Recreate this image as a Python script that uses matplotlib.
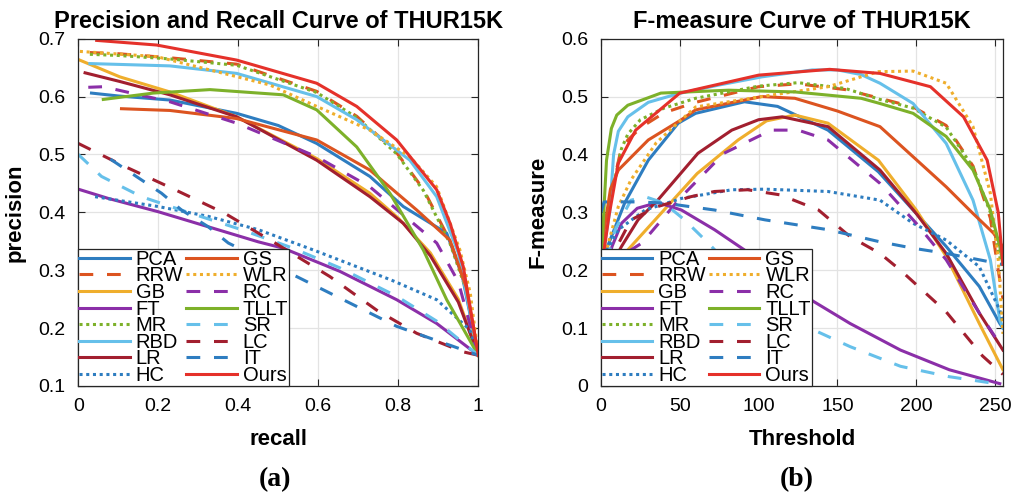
import numpy as np
import matplotlib
matplotlib.use("Agg")
import matplotlib.pyplot as plt

plt.rcParams['font.family'] = ['Liberation Sans', 'DejaVu Sans']

# ---- precision / recall curves ----
PCA_r = [0.033, 0.1, 0.229, 0.396, 0.5, 0.596, 0.729, 0.8125, 0.921, 0.96, 1.0]
PCA_p = [0.606, 0.601, 0.594, 0.571, 0.55, 0.519, 0.462, 0.41, 0.364, 0.29, 0.153]
RRW_r = [0.029, 0.1, 0.229, 0.396, 0.596, 0.696, 0.796, 0.8625, 0.93, 0.97, 1.0]
RRW_p = [0.676, 0.674, 0.667, 0.656, 0.609, 0.566, 0.503, 0.44, 0.35, 0.27, 0.153]
GB_r = [0.0, 0.104, 0.229, 0.396, 0.596, 0.729, 0.8, 0.88, 0.95, 1.0]
GB_p = [0.664, 0.634, 0.608, 0.565, 0.493, 0.433, 0.39, 0.33, 0.25, 0.153]
FT_r = [0.0, 0.075, 0.2, 0.325, 0.45, 0.5125, 0.654, 0.796, 0.896, 1.0]
FT_p = [0.44, 0.424, 0.401, 0.375, 0.349, 0.338, 0.298, 0.249, 0.208, 0.153]
MR_r = [0.029, 0.1, 0.229, 0.396, 0.596, 0.696, 0.796, 0.8625, 0.93, 0.97, 1.0]
MR_p = [0.673, 0.671, 0.665, 0.654, 0.607, 0.564, 0.501, 0.438, 0.345, 0.265, 0.153]
RBD_r = [0.029, 0.229, 0.396, 0.596, 0.696, 0.829, 0.896, 0.95, 1.0]
RBD_p = [0.657, 0.653, 0.64, 0.6, 0.56, 0.49, 0.427, 0.33, 0.153]
LR_r = [0.017, 0.104, 0.229, 0.396, 0.596, 0.729, 0.8125, 0.88, 0.95, 1.0]
LR_p = [0.641, 0.626, 0.603, 0.565, 0.49, 0.427, 0.381, 0.325, 0.245, 0.153]
HC_r = [0.042, 0.2, 0.325, 0.45, 0.5875, 0.7825, 0.896, 0.979, 1.0]
HC_p = [0.427, 0.41, 0.393, 0.37, 0.335, 0.283, 0.249, 0.197, 0.153]
GS_r = [0.108, 0.229, 0.396, 0.596, 0.729, 0.846, 0.929, 0.97, 1.0]
GS_p = [0.579, 0.576, 0.562, 0.525, 0.473, 0.404, 0.352, 0.27, 0.153]
WLR_r = [0.004, 0.196, 0.479, 0.596, 0.729, 0.829, 0.896, 0.954, 0.98, 1.0]
WLR_p = [0.678, 0.669, 0.62, 0.583, 0.542, 0.496, 0.444, 0.335, 0.26, 0.153]
RC_r = [0.025, 0.0625, 0.229, 0.396, 0.596, 0.729, 0.896, 0.95, 1.0]
RC_p = [0.616, 0.617, 0.591, 0.554, 0.496, 0.444, 0.347, 0.28, 0.153]
TLLT_r = [0.0625, 0.1875, 0.329, 0.5125, 0.596, 0.696, 0.779, 0.8625, 0.921, 1.0]
TLLT_p = [0.595, 0.606, 0.612, 0.603, 0.577, 0.513, 0.433, 0.335, 0.249, 0.153]
SR_r = [0.0, 0.058, 0.158, 0.283, 0.408, 0.533, 0.654, 0.796, 0.896, 1.0]
SR_p = [0.5, 0.462, 0.427, 0.398, 0.37, 0.339, 0.304, 0.255, 0.212, 0.153]
LC_r = [0.0, 0.117, 0.242, 0.367, 0.492, 0.629, 0.746, 0.846, 0.962, 1.0]
LC_p = [0.519, 0.479, 0.439, 0.398, 0.347, 0.289, 0.231, 0.191, 0.159, 0.153]
IT_r = [0.08, 0.158, 0.208, 0.258, 0.325, 0.375, 0.546, 0.671, 0.796, 1.0]
IT_p = [0.492, 0.456, 0.433, 0.404, 0.375, 0.347, 0.289, 0.246, 0.203, 0.153]
Ours_r = [0.046, 0.196, 0.396, 0.596, 0.696, 0.796, 0.896, 0.93, 0.9625, 1.0]
Ours_p = [0.697, 0.689, 0.663, 0.623, 0.583, 0.525, 0.439, 0.38, 0.306, 0.153]

# ---- F-measure vs threshold ----
PCA_t = [0, 4, 15, 30, 49, 60, 91, 112, 144, 176, 200, 219, 240, 253, 255]
PCA_f = [0.19, 0.24, 0.316, 0.39, 0.454, 0.471, 0.491, 0.483, 0.442, 0.37, 0.298, 0.241, 0.172, 0.108, 0.10]
RRW_t = [0, 3, 7, 12, 17, 26, 40, 60, 100, 125, 155, 177, 198, 219, 236, 247, 252, 255]
RRW_f = [0.19, 0.27, 0.34, 0.40, 0.425, 0.448, 0.472, 0.49, 0.517, 0.522, 0.512, 0.497, 0.482, 0.45, 0.38, 0.29, 0.2, 0.15]
GB_t = [0, 10, 17, 40, 61, 87, 105, 123, 144, 176, 200, 219, 240, 255]
GB_f = [0.17, 0.2, 0.235, 0.304, 0.367, 0.425, 0.458, 0.468, 0.454, 0.39, 0.304, 0.224, 0.108, 0.028]
FT_t = [0, 3, 7, 13, 23, 36, 51, 72, 91, 110, 130, 158, 190, 221, 253]
FT_f = [0.17, 0.2, 0.241, 0.281, 0.307, 0.317, 0.304, 0.27, 0.235, 0.195, 0.154, 0.108, 0.062, 0.028, 0.004]
MR_t = [0, 4, 9, 13, 17, 25, 40, 60, 100, 125, 155, 177, 198, 219, 236, 247, 252, 255]
MR_f = [0.19, 0.3, 0.36, 0.41, 0.435, 0.46, 0.48, 0.497, 0.518, 0.524, 0.514, 0.495, 0.48, 0.447, 0.378, 0.3, 0.235, 0.2]
RBD_t = [0, 2, 5.5, 8, 11, 17, 30, 49, 75, 102, 134, 150, 165, 177, 198, 219, 236, 247, 253, 255]
RBD_f = [0.19, 0.24, 0.3, 0.4, 0.44, 0.465, 0.49, 0.505, 0.52, 0.534, 0.546, 0.546, 0.538, 0.523, 0.488, 0.419, 0.321, 0.218, 0.114, 0.10]
LR_t = [0, 5, 13, 23.5, 36, 61.5, 83, 100, 115, 144, 177, 200, 219, 240, 255]
LR_f = [0.17, 0.2, 0.241, 0.287, 0.321, 0.402, 0.442, 0.46, 0.465, 0.448, 0.373, 0.298, 0.229, 0.126, 0.062]
HC_t = [0, 5, 11, 28, 51, 83, 104, 144, 177, 198, 219, 240, 253, 255]
HC_f = [0.2, 0.24, 0.27, 0.304, 0.324, 0.339, 0.34, 0.336, 0.321, 0.281, 0.252, 0.206, 0.131, 0.11]
GS_t = [0, 2, 6, 11, 30, 51, 60, 102, 123, 150, 177, 198, 219, 236, 249, 255]
GS_f = [0.19, 0.27, 0.34, 0.373, 0.425, 0.46, 0.477, 0.5, 0.497, 0.475, 0.448, 0.396, 0.344, 0.298, 0.264, 0.24]
WLR_t = [0, 4, 11, 19, 35, 51, 60, 102, 144, 176, 198, 219, 236, 247, 252, 255]
WLR_f = [0.17, 0.24, 0.31, 0.356, 0.42, 0.46, 0.482, 0.5, 0.517, 0.543, 0.544, 0.523, 0.448, 0.333, 0.218, 0.09]
RC_t = [0, 10, 19, 26, 51, 78, 108, 125, 144, 177, 200, 219, 240, 250, 255]
RC_f = [0.15, 0.19, 0.235, 0.247, 0.327, 0.402, 0.442, 0.442, 0.425, 0.35, 0.281, 0.218, 0.126, 0.085, 0.07]
TLLT_t = [0, 1, 3.5, 6.6, 10, 17, 38, 81, 123, 165, 177, 198, 219, 236, 247, 253, 255]
TLLT_f = [0.19, 0.26, 0.39, 0.445, 0.468, 0.485, 0.506, 0.511, 0.508, 0.497, 0.488, 0.471, 0.431, 0.373, 0.304, 0.241, 0.21]
SR_t = [0, 4, 9, 19, 28, 40, 53, 68, 95, 126, 158, 190, 221, 253]
SR_f = [0.17, 0.22, 0.27, 0.321, 0.327, 0.316, 0.287, 0.247, 0.17, 0.108, 0.068, 0.034, 0.016, 0.003]
LC_t = [0, 8, 19, 36, 57, 72, 93, 114, 138, 158, 177, 190, 219, 242, 255]
LC_f = [0.16, 0.23, 0.287, 0.31, 0.327, 0.336, 0.339, 0.33, 0.304, 0.258, 0.229, 0.2, 0.128, 0.052, 0.02]
IT_t = [0, 2, 23, 40, 72, 104, 144, 177, 198, 219, 240, 255]
IT_f = [0.3, 0.318, 0.318, 0.316, 0.304, 0.287, 0.27, 0.249, 0.238, 0.229, 0.218, 0.21]
Ours_t = [0, 2, 5, 11, 22, 50, 100, 145, 177, 209, 230, 245, 252, 255]
Ours_f = [0.19, 0.235, 0.293, 0.385, 0.442, 0.506, 0.537, 0.547, 0.54, 0.517, 0.465, 0.39, 0.30, 0.21]

names = ['PCA', 'RRW', 'GB', 'FT', 'MR', 'RBD', 'LR', 'HC',
         'GS', 'WLR', 'RC', 'TLLT', 'SR', 'LC', 'IT', 'Ours']

blue = '#2E7DC0'
orange = '#DC5420'
yellow = '#EFAE2C'
purple = '#8B2FA8'
green = '#7DB12A'
lblue = '#66C0EA'
dred = '#A21F2F'
red = '#E5312A'

solid = '-'
dash = (0, (4.5, 4.5))
dot = (0, (1, 1.2))

styles = {
    'PCA': (blue, solid), 'RRW': (orange, dash), 'GB': (yellow, solid),
    'FT': (purple, solid), 'MR': (green, dot), 'RBD': (lblue, solid),
    'LR': (dred, solid), 'HC': (blue, dot), 'GS': (orange, solid),
    'WLR': (yellow, dot), 'RC': (purple, dash), 'TLLT': (green, solid),
    'SR': (lblue, dash), 'LC': (dred, dash), 'IT': (blue, dash),
    'Ours': (red, solid),
}

g = globals()

fig = plt.figure(figsize=(10.14, 4.99), dpi=100)
ax1 = fig.add_axes([0.0772, 0.2265, 0.3945, 0.696])
ax2 = fig.add_axes([0.5927, 0.2265, 0.3964, 0.696])

for n in names:
    c, ls = styles[n]
    ax1.plot(g[n + '_r'], g[n + '_p'], color=c, linestyle=ls, lw=2.2,
             label=n, dash_capstyle='butt')
    ax2.plot(g[n + '_t'], g[n + '_f'], color=c, linestyle=ls, lw=2.2,
             label=n, dash_capstyle='butt')

ax1.set_xlim(0, 1)
ax1.set_ylim(0.1, 0.7)
ax1.set_xticks([0, 0.2, 0.4, 0.6, 0.8, 1])
ax1.set_xticklabels(['0', '0.2', '0.4', '0.6', '0.8', '1'])
ax1.set_yticks([0.1, 0.2, 0.3, 0.4, 0.5, 0.6, 0.7])
ax1.set_title('Precision and Recall Curve of THUR15K', fontsize=17,
              fontweight='bold', pad=8)
ax1.set_xlabel('recall', fontsize=16, fontweight='bold', labelpad=10)
ax1.set_ylabel('precision', fontsize=16, fontweight='bold', labelpad=9)

ax2.set_xlim(0, 255)
ax2.set_ylim(0, 0.6)
ax2.set_xticks([0, 50, 100, 150, 200, 250])
ax2.set_yticks([0, 0.1, 0.2, 0.3, 0.4, 0.5, 0.6])
ax2.set_yticklabels(['0', '0.1', '0.2', '0.3', '0.4', '0.5', '0.6'])
ax2.set_title('F-measure Curve of THUR15K', fontsize=17, fontweight='bold', pad=8)
ax2.set_xlabel('Threshold', fontsize=16, fontweight='bold', labelpad=10)
ax2.set_ylabel('F-measure', fontsize=16, fontweight='bold', labelpad=9)

for ax in (ax1, ax2):
    ax.grid(True, color='#E3E3E3', lw=0.9)
    ax.set_axisbelow(True)
    ax.tick_params(direction='in', top=True, right=True, labelsize=14,
                   length=5, color='#262626', pad=9)
    for s in ax.spines.values():
        s.set_color('#262626')
        s.set_linewidth(0.9)
    leg = ax.legend(loc='lower left', ncol=2, fontsize=14.5, frameon=True,
                    fancybox=False, framealpha=1, edgecolor='#262626',
                    borderaxespad=0, borderpad=0.05, labelspacing=-0.12,
                    handlelength=2.5, handletextpad=0.3, columnspacing=0.15)
    leg.get_frame().set_linewidth(0.9)

fig.text(0.271, 0.038, '(a)', fontsize=20, fontweight='bold',
         family='Liberation Serif', ha='center', va='center')
fig.text(0.786, 0.038, '(b)', fontsize=20, fontweight='bold',
         family='Liberation Serif', ha='center', va='center')

fig.savefig('out.png', dpi=100)
